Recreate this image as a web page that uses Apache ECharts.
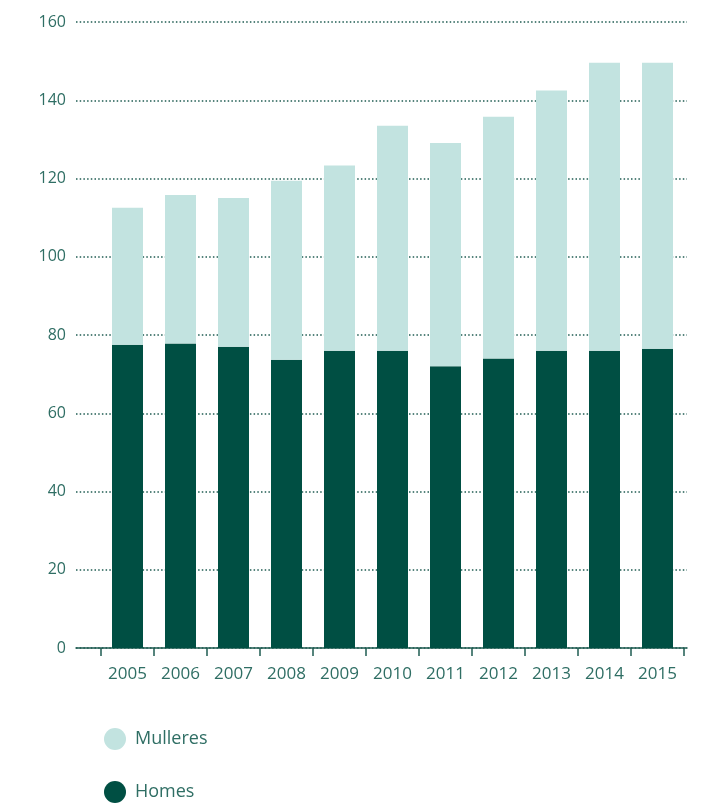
<!DOCTYPE html>
<html><head><meta charset="utf-8">
<script src="https://cdn.jsdelivr.net/npm/echarts@6/dist/echarts.min.js"></script>
<style>html,body{margin:0;padding:0;background:#fff}#c{width:706px;height:807px}</style>
</head><body><div id="c"></div>
<script>
const years = ['2005','2006','2007','2008','2009','2010','2011','2012','2013','2014','2015'];
const homes = [77.5, 77.8, 77.0, 73.7, 76.0, 76.0, 72.0, 74.0, 76.0, 76.0, 76.5];
const mulleres = [35.0, 38.0, 38.0, 45.7, 47.3, 57.5, 57.1, 61.8, 66.5, 73.6, 73.1];
const yTicks = [0, 20, 40, 60, 80, 100, 120, 140, 160];

const dark = '#004f43';
const light = '#c2e3e0';
const textCol = '#2f6e64';
const font = '"Open Sans", "Noto Sans", sans-serif';

const legendStyle = {
  orient: 'vertical', left: 104, padding: 0,
  icon: 'circle', itemWidth: 22, itemHeight: 22,
  textStyle: {color: textCol, fontSize: 18, fontFamily: font, padding: [0,0,0,4]}
};

const chart = echarts.init(document.getElementById('c'), null, {renderer: 'canvas'});
chart.setOption({
  animation: false,
  grid: [
    {left: 101, right: 22, top: 22, bottom: 159},
    {left: 76, right: 19, top: 22, bottom: 159}
  ],
  xAxis: [
    {type: 'category', gridIndex: 0, data: years,
     axisLine: {show: false},
     axisTick: {show: true, length: 8, lineStyle: {color: '#1f5c52', width: 1.5}},
     axisLabel: {color: textCol, fontSize: 17, fontFamily: font, margin: 18}},
    {type: 'value', gridIndex: 1, min: 0, max: 1,
     axisLine: {show: true, onZero: false, lineStyle: {color: '#1f5c52', width: 1.5}},
     axisTick: {show: false}, axisLabel: {show: false}, splitLine: {show: false}}
  ],
  yAxis: [
    {type: 'value', gridIndex: 0, min: yTicks[0], max: yTicks[yTicks.length-1], interval: 20, show: false},
    {type: 'value', gridIndex: 1, min: yTicks[0], max: yTicks[yTicks.length-1], interval: 20,
     axisLine: {show: false}, axisTick: {show: false},
     axisLabel: {color: textCol, fontSize: 16, fontFamily: font, margin: 10, padding: [0,0,14,0],
       formatter: v => yTicks.includes(v) ? String(v) : ''},
     splitLine: {show: true, lineStyle: {color: '#1f5c52', width: 1.5, type: [1.5, 2.2]}}}
  ],
  legend: [
    Object.assign({}, legendStyle, {top: 728, data: ['Mulleres']}),
    Object.assign({}, legendStyle, {top: 781, data: ['Homes']})
  ],
  series: [
    {name: 'Homes', type: 'bar', stack: 't', xAxisIndex: 0, yAxisIndex: 0, data: homes,
     barWidth: 31, itemStyle: {color: dark}},
    {name: 'Mulleres', type: 'bar', stack: 't', xAxisIndex: 0, yAxisIndex: 0, data: mulleres,
     barWidth: 31, itemStyle: {color: light}}
  ]
});
</script></body></html>
